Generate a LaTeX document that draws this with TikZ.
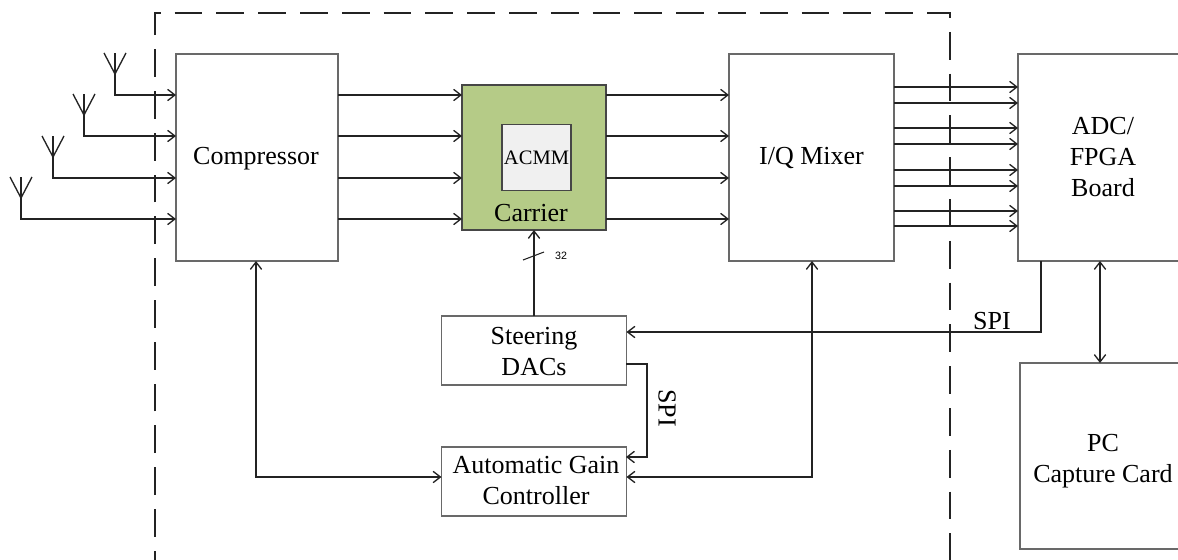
\documentclass[tikz,border=0pt]{standalone}
\usepackage{fontspec}
\setmainfont{Liberation Serif}
\setsansfont{Liberation Sans}
\usetikzlibrary{positioning}
\usetikzlibrary{arrows.meta}
\usetikzlibrary{calc}
\definecolor{figVerde}{RGB}{181,203,135}
\definecolor{figGris}{RGB}{240,240,240}
\definecolor{figBorde}{RGB}{105,105,105}
\definecolor{figBordeOsc}{RGB}{70,70,70}
\definecolor{figLinea}{RGB}{35,35,35}
\tikzset{
  bloque/.style={
    rectangle, draw=figBorde, line width=0.9pt, fill=white,
    align=center, inner sep=0pt, outer sep=0pt,
    font=\fontsize{19.5pt}{23.25pt}\selectfont
  },
  bloquegrande/.style={bloque, minimum width=121.5pt, minimum height=155.25pt},
  bloquechico/.style={bloque, minimum width=138.75pt, minimum height=51.75pt},
  flecha/.style={-{Straight Barb[length=5.5pt,width=8.5pt]}, line width=1pt, draw=figLinea},
  flechadoble/.style={{Straight Barb[length=5.5pt,width=8.5pt]}-{Straight Barb[length=5.5pt,width=8.5pt]}, line width=1pt, draw=figLinea},
  linea/.style={line width=1pt, draw=figLinea},
  frontera/.style={line width=1pt, draw=figLinea, dash pattern=on 20.8pt off 10.55pt},
  texto/.style={inner sep=0pt, align=center, font=\fontsize{19.5pt}{23.25pt}\selectfont}
}
\begin{document}
\begin{tikzpicture}[x=0.75pt,y=-0.75pt]
  \useasboundingbox (0,0) rectangle (1178,560);
  \clip (0,0) rectangle (1178,560);

  \draw[frontera] (155,578.6) -- (155,13) -- (950,13) -- (950,581);

  \node[bloquegrande] at (257,157.5) (comp) {};
  \node[texto] at ($(comp)+(-1,1)$) (comptxt) {Compressor};
  \node[bloque, draw=figBordeOsc, fill=figVerde, minimum width=108pt, minimum height=108.75pt, right=93pt of comp] (carrier) {};
  \node[bloque, draw=figBordeOsc, fill=figGris, minimum width=51.75pt, minimum height=49.5pt, font=\fontsize{15.4pt}{18pt}\selectfont] at ($(carrier)+(2.5,0)$) (acmm) {ACMM};
  \node[texto] at ($(carrier.south)+(-3,-17)$) (carriertxt) {Carrier};
  \node[bloquegrande, minimum width=123.75pt, right=92.25pt of carrier] (mixer) {I/Q Mixer};
  \node[bloquegrande, minimum width=127.5pt, right=93pt of mixer] (adc) {ADC/\\FPGA\\Board};
  \node[bloquechico, below=64.5pt of carrier] (dacs) {};
  \node[texto] at ($(dacs)+(0,1)$) (dacstxt) {Steering\\DACs};
  \node[bloquechico, below=46.5pt of dacs] (agc) {};
  \node[texto] at ($(agc)+(2,-1)$) (agctxt) {Automatic Gain\\Controller};
  \node[bloque, minimum width=124.5pt, minimum height=139.5pt, below=76.5pt of adc] (pc) {};
  \node[texto] at ($(pc)+(0,5)$) (pctxt) {PC\\Capture Card};

  % antenas
  \foreach \i/\x/\y in {1/115/95, 2/84/136, 3/53/178, 4/21/219} {
    \coordinate (ant\i) at (\x,\y-21);
    \draw[linea] (\x-11,\y-42) -- (ant\i) -- (\x+11,\y-42);
    \draw[linea] (ant\i) -- (\x,\y-42);
    \draw[flecha] (ant\i) |- (comp.west |- 0,\y);
    \draw[flecha] (comp.east |- 0,\y) -- (carrier.west |- 0,\y);
    \draw[flecha] (carrier.east |- 0,\y) -- (mixer.west |- 0,\y);
  }
  \foreach \y in {87,103,128,144,170,186,211,226} {
    \draw[flecha] (mixer.east |- 0,\y) -- (adc.west |- 0,\y);
  }

  \draw[flecha] (dacs.north) -- (carrier.south);
  \coordinate (barraa) at ($(carrier.south)+(-11,30)$);
  \coordinate (barrab) at ($(carrier.south)+(10,22)$);
  \draw[line width=0.8pt, draw=figLinea] (barraa) -- (barrab);
  \node[inner sep=0pt, font=\sffamily\fontsize{8pt}{9pt}\selectfont] at ($(carrier.south)+(27,26)$) (bus) {32};

  \coordinate (compsur) at (256,261);
  \draw[flechadoble] (compsur) |- (agc.west |- 0,477);
  \coordinate (mixersur) at (812,261);
  \draw[flechadoble] (mixersur) |- (agc.east |- 0,477);
  \coordinate (adcsur) at (1041,261);
  \draw[flecha] (adcsur) |- (dacs.east |- 0,332);
  \node[texto] at (992,321.5) (spia) {SPI};
  \coordinate (spisale) at (626,364);
  \coordinate (spientra) at (626,457);
  \draw[flecha] (spisale) -- (647,364) -- (647,457) -- (spientra);
  \node[texto, rotate=-90] at (667,408) (spib) {SPI};
  \coordinate (adcpc) at (1100,261);
  \draw[flechadoble] (adcpc) -- (adcpc |- pc.north);
\end{tikzpicture}
\end{document}
